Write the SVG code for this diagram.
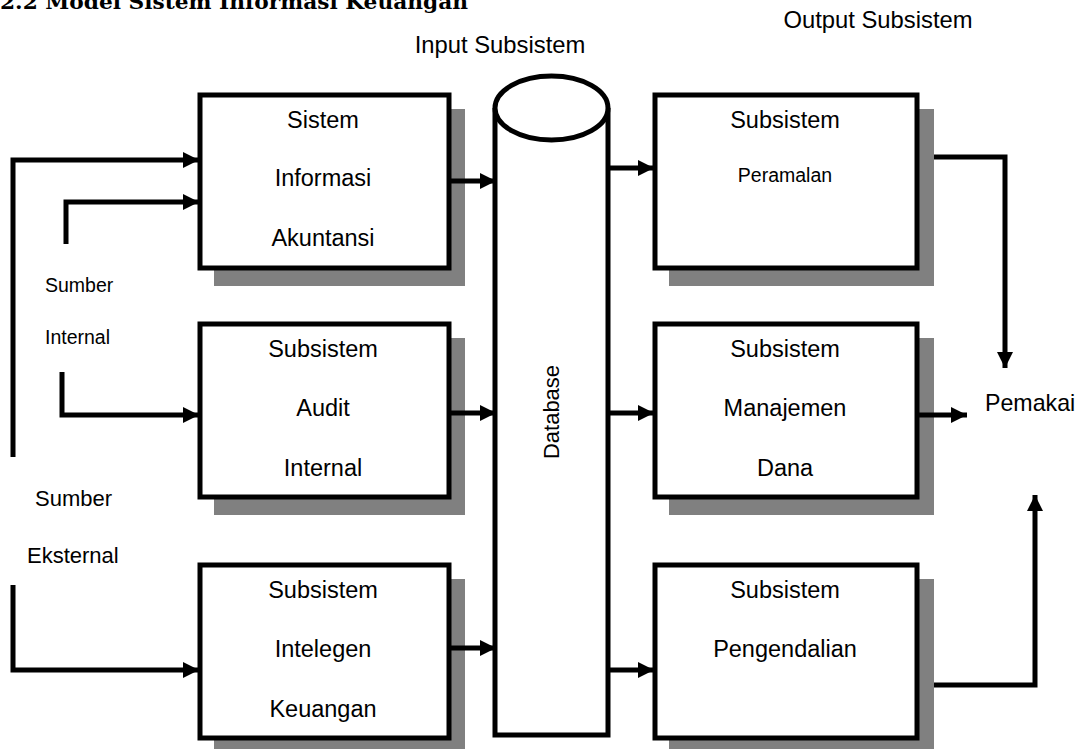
<svg xmlns="http://www.w3.org/2000/svg" width="1078" height="749" viewBox="0 0 1078 749">
<style>
.t{font-family:"Liberation Sans",Arial,sans-serif;font-size:23.5px;fill:#000;text-anchor:middle}
.p{font-family:"Liberation Sans",Arial,sans-serif;font-size:23.2px;fill:#000;text-anchor:start}
.h{font-family:"Liberation Sans",Arial,sans-serif;font-size:23.8px;fill:#000;text-anchor:middle}
.s{font-family:"Liberation Sans",Arial,sans-serif;font-size:19.5px;fill:#000}
.l{font-family:"Liberation Sans",Arial,sans-serif;font-size:22px;fill:#000}
.box{fill:#fff;stroke:#000;stroke-width:5}
.sh{fill:#808080}
.c{fill:none;stroke:#000;stroke-width:5}
</style>
<defs>
<marker id="ah" viewBox="0 0 10 10" refX="10" refY="5" markerWidth="3.2" markerHeight="3.2" orient="auto" markerUnits="strokeWidth">
<path d="M0,0 L10,5 L0,10 z" fill="#000"/>
</marker>
</defs>
<rect width="1078" height="749" fill="#fff"/>
<text x="0" y="9" textLength="468" lengthAdjust="spacingAndGlyphs" style="font-family:'DejaVu Serif','Liberation Serif',serif;font-size:20px;font-weight:bold">2.2  Model Sistem Informasi Keuangan</text>
<text class="h" x="500" y="53">Input Subsistem</text>
<text class="h" x="878" y="28">Output Subsistem</text>

<g id="box-sia">
<rect class="sh" x="214" y="109" width="251" height="177"/>
<rect class="box" x="200" y="95" width="249" height="173"/>
<text class="t" x="323" y="128">Sistem</text>
<text class="t" x="323" y="186">Informasi</text>
<text class="t" x="323" y="246">Akuntansi</text>
</g>
<g id="box-audit">
<rect class="sh" x="214" y="338" width="251" height="177"/>
<rect class="box" x="200" y="324" width="249" height="173"/>
<text class="t" x="323" y="357">Subsistem</text>
<text class="t" x="323" y="416">Audit</text>
<text class="t" x="323" y="476">Internal</text>
</g>
<g id="box-intelegen">
<rect class="sh" x="214" y="579" width="251" height="170"/>
<rect class="box" x="200" y="565" width="249" height="173"/>
<text class="t" x="323" y="598">Subsistem</text>
<text class="t" x="323" y="657">Intelegen</text>
<text class="t" x="323" y="717">Keuangan</text>
</g>

<g id="database">
<path d="M495,108 L495,735 L608,735 L608,108" fill="#fff" stroke="#000" stroke-width="5"/>
<ellipse cx="551.5" cy="108" rx="56.5" ry="32" fill="#fff" stroke="#000" stroke-width="5"/>
<text class="l" text-anchor="middle" transform="translate(559,412) rotate(-90)">Database</text>
</g>

<g id="box-peramalan">
<rect class="sh" x="669" y="109" width="265" height="177"/>
<rect class="box" x="655" y="95" width="262" height="173"/>
<text class="t" x="785" y="128">Subsistem</text>
<text class="s" x="785" y="182" text-anchor="middle">Peramalan</text>
</g>
<g id="box-dana">
<rect class="sh" x="669" y="338" width="265" height="177"/>
<rect class="box" x="655" y="324" width="262" height="173"/>
<text class="t" x="785" y="357">Subsistem</text>
<text class="t" x="785" y="416">Manajemen</text>
<text class="t" x="785" y="476">Dana</text>
</g>
<g id="box-pengendalian">
<rect class="sh" x="669" y="579" width="265" height="170"/>
<rect class="box" x="655" y="565" width="262" height="173"/>
<text class="t" x="785" y="598">Subsistem</text>
<text class="t" x="785" y="657">Pengendalian</text>
</g>

<g id="labels">
<text class="s" x="45" y="292">Sumber</text>
<text class="s" x="45" y="344">Internal</text>
<text class="l" x="35" y="506">Sumber</text>
<text class="l" x="27" y="563">Eksternal</text>
<text class="p" x="985" y="411">Pemakai</text>
</g>

<g id="connectors">
<path class="c" d="M13,457 L13,160 L199,160" marker-end="url(#ah)"/>
<path class="c" d="M66,244 L66,202 L199,202" marker-end="url(#ah)"/>
<path class="c" d="M62,372 L62,415 L199,415" marker-end="url(#ah)"/>
<path class="c" d="M13,585 L13,670 L199,670" marker-end="url(#ah)"/>
<path class="c" d="M449,181 L496,181" marker-end="url(#ah)"/>
<path class="c" d="M449,413 L496,413" marker-end="url(#ah)"/>
<path class="c" d="M449,648 L496,648" marker-end="url(#ah)"/>
<path class="c" d="M608,168 L654,168" marker-end="url(#ah)"/>
<path class="c" d="M608,413 L654,413" marker-end="url(#ah)"/>
<path class="c" d="M608,670 L654,670" marker-end="url(#ah)"/>
<path class="c" d="M934,157 L1005,157 L1005,368" marker-end="url(#ah)"/>
<path class="c" d="M917,415 L967,415" marker-end="url(#ah)"/>
<path class="c" d="M934,685 L1035,685 L1035,495" marker-end="url(#ah)"/>
</g>
</svg>
